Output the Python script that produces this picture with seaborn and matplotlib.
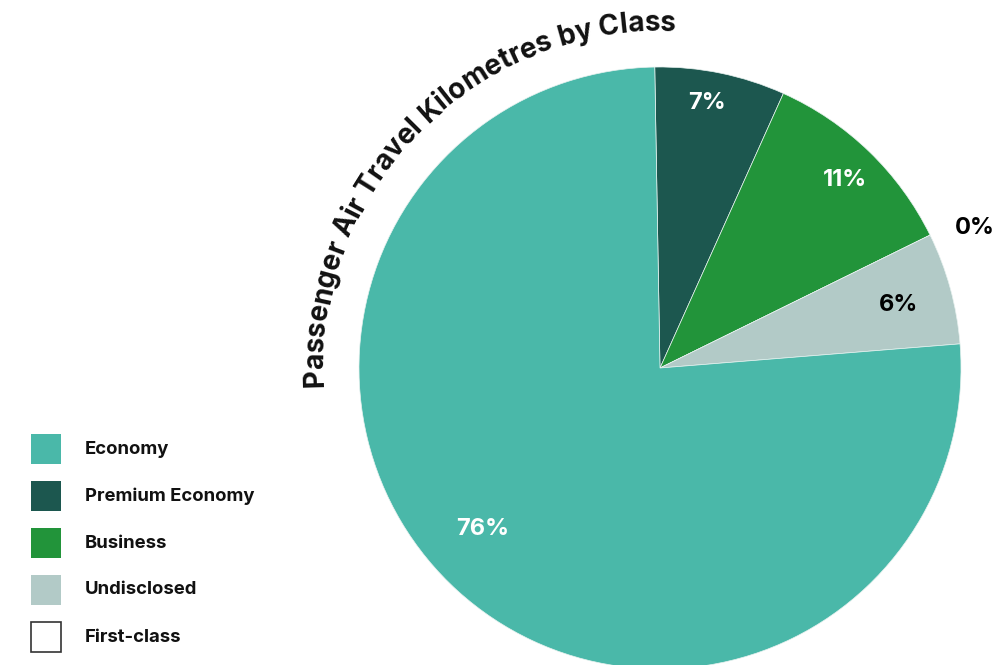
import numpy as np
import matplotlib
matplotlib.use("Agg")
import matplotlib.pyplot as plt
from matplotlib.patches import Rectangle
import seaborn as sns

# ---- data -------------------------------------------------------------
categories = ["Economy", "Premium Economy", "Business", "Undisclosed", "First-class"]
shares = [76, 7, 11, 6, 0]
colors = ["#4ab8a9", "#1c574f", "#22943a", "#b2cac7", "#ffffff"]
title = "Passenger Air Travel Kilometres by Class"

# clockwise drawing order, starting at the top of the pie
pie_order = ["Premium Economy", "Business", "First-class", "Undisclosed", "Economy"]

# ---- style ------------------------------------------------------------
sns.set_theme(style="white")
plt.rcParams["font.family"] = ["Inter", "DejaVu Sans"]

W, H = 1002, 665
fig = plt.figure(figsize=(W / 100, H / 100), dpi=100)
ax = fig.add_axes([0, 0, 1, 1])

cx, cy, R = 660, H - 368, 301
idx = [categories.index(c) for c in pie_order]
wedges, _ = ax.pie(
    [shares[i] for i in idx],
    colors=[colors[i] for i in idx],
    startangle=91,
    counterclock=False,
    center=(cx, cy),
    radius=R,
    frame=True,
    wedgeprops=dict(linewidth=0.5, edgecolor="#e8f2f0"),
)
ax.set_xlim(0, W)
ax.set_ylim(0, H)
ax.set_aspect("equal")
ax.set_autoscale_on(False)
ax.axis("off")

# ---- percentage labels --------------------------------------------------
# (radius factor, angular nudge in degrees, text colour)
label_style = {
    "Premium Economy": (0.895, 1.5, "white"),
    "Business": (0.875, -0.5, "white"),
    "First-class": (1.145, -2.3, "black"),
    "Undisclosed": (0.82, -0.5, "black"),
    "Economy": (0.795, -5.6, "white"),
}
for w, i in zip(wedges, idx):
    name = categories[i]
    rf, nudge, col = label_style[name]
    mid = np.deg2rad((w.theta1 + w.theta2) / 2 + nudge)
    ax.text(cx + rf * R * np.cos(mid), cy + rf * R * np.sin(mid),
            f"{shares[i]:.0f}%", ha="center", va="center",
            fontsize=17, fontweight="bold", color=col)

# ---- legend -------------------------------------------------------------
for k, name in enumerate(categories):
    top = 434 + 47 * k
    face = colors[k]
    first = name == "First-class"
    ax.add_patch(Rectangle((31, H - top - 30), 30, 30, facecolor=face,
                           edgecolor="#333333" if first else face,
                           linewidth=1.2 if first else 0))
    ax.text(85, H - top - 15, name, ha="left", va="center",
            fontsize=13.3, fontweight="bold", color="#111111")

# ---- title set along an arc above the pie -------------------------------
renderer = fig.canvas.get_renderer()
title_weight = "bold"


def advance(ch, fs):
    a = ax.text(0, 0, "a" + ch + "a", fontsize=fs, fontweight=title_weight)
    b = ax.text(0, 0, "aa", fontsize=fs, fontweight=title_weight)
    wa = a.get_window_extent(renderer).width
    wb = b.get_window_extent(renderer).width
    a.remove()
    b.remove()
    return wa - wb


Rb = 337.0
theta_start = np.deg2rad(183.2)
theta_end = np.deg2rad(87.0)
arc_len = (theta_start - theta_end) * Rb

fs0 = 20.0
w0 = sum(advance(c, fs0) for c in title)
fs = fs0 * arc_len / w0
widths = [advance(c, fs) for c in title]

s = 0.0
for ch, wch in zip(title, widths):
    ang = theta_start - (s + wch / 2) / Rb
    s += wch
    if ch == " ":
        continue
    ax.text(cx + Rb * np.cos(ang), cy + Rb * np.sin(ang), ch,
            rotation=np.rad2deg(ang) - 90, rotation_mode="anchor",
            ha="center", va="baseline", fontsize=fs, fontweight=title_weight,
            color="#111111")

fig.savefig("out.png", dpi=100, facecolor="white")
